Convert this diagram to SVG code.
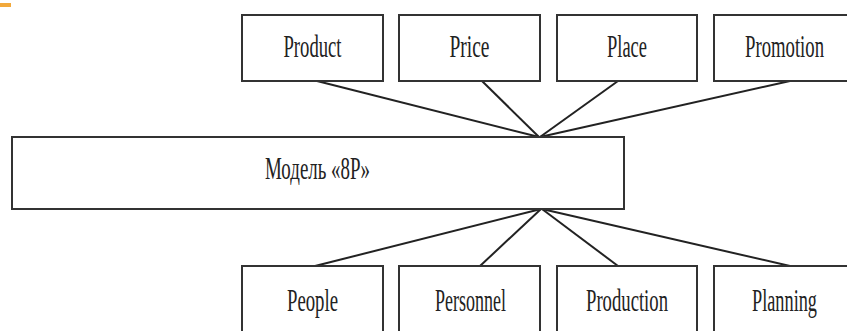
<svg xmlns="http://www.w3.org/2000/svg" width="847" height="331" viewBox="0 0 847 331">
<style>
.box{fill:#fff;stroke:#333;stroke-width:2}
.lbl{font-family:"Liberation Serif","DejaVu Serif","Times New Roman",serif;font-size:32px;fill:#222;text-anchor:middle}
.ln{stroke:#222;stroke-width:2;fill:none}
</style>
<rect x="0" y="0" width="847" height="331" fill="#fff"/>
<rect x="0" y="3" width="11" height="4" fill="#F2A93B"/>
<g id="connectors">
<line class="ln" x1="317" y1="81" x2="539" y2="137"/>
<line class="ln" x1="482" y1="81" x2="539" y2="137"/>
<line class="ln" x1="618" y1="81" x2="540" y2="137"/>
<line class="ln" x1="790" y1="81" x2="540" y2="137"/>
<line class="ln" x1="541" y1="209" x2="315" y2="266"/>
<line class="ln" x1="541" y1="209" x2="480" y2="266"/>
<line class="ln" x1="542" y1="209" x2="618" y2="266"/>
<line class="ln" x1="542" y1="209" x2="790" y2="266"/>
</g>
<g id="product"><rect class="box" x="242" y="15" width="141" height="66"/><text class="lbl" x="312.5" y="57" textLength="58" lengthAdjust="spacingAndGlyphs">Product</text></g>
<g id="price"><rect class="box" x="399" y="15" width="141" height="66"/><text class="lbl" x="469.5" y="57" textLength="40" lengthAdjust="spacingAndGlyphs">Price</text></g>
<g id="place"><rect class="box" x="557" y="15" width="140" height="66"/><text class="lbl" x="627" y="57" textLength="40" lengthAdjust="spacingAndGlyphs">Place</text></g>
<g id="promotion"><rect class="box" x="714" y="15" width="141" height="66"/><text class="lbl" x="784.5" y="57" textLength="79" lengthAdjust="spacingAndGlyphs">Promotion</text></g>
<g id="model"><rect class="box" x="12" y="137" width="612" height="72"/><text class="lbl" x="317.5" y="179" textLength="105" lengthAdjust="spacingAndGlyphs">Модель «8P»</text></g>
<g id="people"><rect class="box" x="242" y="266" width="141" height="70"/><text class="lbl" x="312.5" y="311" textLength="51" lengthAdjust="spacingAndGlyphs">People</text></g>
<g id="personnel"><rect class="box" x="399" y="266" width="141" height="70"/><text class="lbl" x="470.5" y="311" textLength="71" lengthAdjust="spacingAndGlyphs">Personnel</text></g>
<g id="production"><rect class="box" x="557" y="266" width="140" height="70"/><text class="lbl" x="627" y="311" textLength="82" lengthAdjust="spacingAndGlyphs">Production</text></g>
<g id="planning"><rect class="box" x="714" y="266" width="141" height="70"/><text class="lbl" x="784.5" y="311" textLength="65" lengthAdjust="spacingAndGlyphs">Planning</text></g>
</svg>
